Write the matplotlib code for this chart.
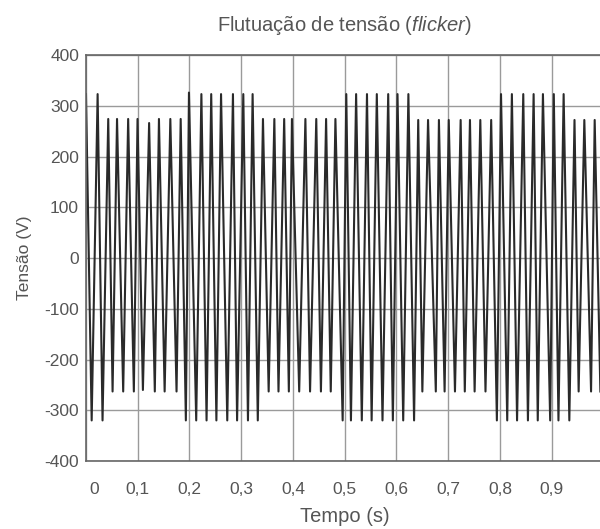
import numpy as np
import matplotlib
matplotlib.use("Agg")
import matplotlib.pyplot as plt
import matplotlib.transforms as mtransforms

plt.rcParams['font.family'] = ['Liberation Sans', 'DejaVu Sans']
plt.rcParams['mathtext.fontset'] = 'custom'
plt.rcParams['mathtext.rm'] = 'Liberation Sans'
plt.rcParams['mathtext.it'] = 'Liberation Sans:italic'
plt.rcParams['axes.unicode_minus'] = False

# positive peaks of the waveform (time in s, voltage in V)
peak_t = [0.000, 0.0225, 0.043, 0.060, 0.0815, 0.0996, 0.122, 0.141, 0.163, 0.183,
          0.199, 0.223, 0.242, 0.261, 0.284, 0.304, 0.322,
          0.342, 0.364, 0.383, 0.398, 0.424, 0.445, 0.464, 0.482,
          0.503, 0.522, 0.543, 0.562, 0.584, 0.602, 0.623,
          0.642, 0.661, 0.682, 0.701, 0.724, 0.742, 0.762, 0.783,
          0.802, 0.823, 0.845, 0.865, 0.883, 0.904, 0.923,
          0.944, 0.963, 0.983]
peak_v = [323, 323, 274, 274, 274, 274, 266, 274, 274, 274,
          326, 323, 323, 323, 323, 323, 323,
          274, 274, 274, 274, 274, 274, 274, 274,
          323, 323, 323, 323, 323, 323, 323,
          272, 272, 272, 272, 272, 272, 272, 272,
          323, 323, 323, 323, 323, 323, 323,
          272, 272, 272]

# negative troughs of the waveform
trough_t = [0.011, 0.032,
            0.0514, 0.0719, 0.0925, 0.110, 0.133, 0.152, 0.175,
            0.193, 0.213, 0.233, 0.252, 0.273, 0.292, 0.313, 0.332,
            0.353, 0.372, 0.392, 0.412, 0.433, 0.454, 0.473,
            0.496, 0.512, 0.533, 0.552, 0.573, 0.593, 0.613, 0.634,
            0.650, 0.676, 0.693, 0.713, 0.732, 0.751, 0.772,
            0.794, 0.814, 0.833, 0.854, 0.873, 0.897, 0.913, 0.934,
            0.952, 0.976, 0.994]
trough_v = [-320, -320,
            -263, -263, -263, -260, -263, -263, -263,
            -320, -320, -320, -320, -320, -320, -320, -320,
            -263, -263, -263, -263, -263, -263, -263,
            -320, -320, -320, -320, -320, -320, -320, -320,
            -263, -263, -263, -263, -263, -263, -263,
            -320, -320, -320, -320, -320, -320, -320, -320,
            -263, -263, -263]

x_ticks = [0, 0.1, 0.2, 0.3, 0.4, 0.5, 0.6, 0.7, 0.8, 0.9, 1.0]
x_labels = ['0', '0,1', '0,2', '0,3', '0,4', '0,5', '0,6', '0,7', '0,8', '0,9', '1']
y_ticks = [-400, -300, -200, -100, 0, 100, 200, 300, 400]

t = np.array(peak_t + trough_t)
v = np.array(peak_v + trough_v)
order = np.argsort(t)
t, v = t[order], v[order]

text_color = '#555555'

fig = plt.figure(figsize=(6, 5.29), dpi=100)
ax = fig.add_axes([0.1433, 0.1285, 0.8625, 0.7675])

ax.plot(t, v, color='#2a2a2a', lw=1.5)

ax.set_xlim(0, 1)
ax.set_ylim(-400, 400)
ax.set_xticks(x_ticks)
ax.set_xticklabels(x_labels)
ax.set_yticks(y_ticks)
ax.grid(True, color='#9a9a9a', lw=1.0)
ax.set_axisbelow(True)
for s in ax.spines.values():
    s.set_color('#666666')
    s.set_linewidth(1.2)
ax.tick_params(length=0, labelsize=12.5, labelcolor=text_color)
ax.tick_params(axis='x', pad=15)
ax.tick_params(axis='y', pad=5)

# first x label sits a bit to the right of the axis
lbl0 = ax.get_xticklabels()[0]
lbl0.set_transform(lbl0.get_transform() +
                   mtransforms.ScaledTranslation(6 / 72, 0, fig.dpi_scale_trans))

ax.set_title('Flutuação de tensão ($\\mathit{flicker}$)', fontsize=14.5,
             color=text_color, pad=17)
ax.set_xlabel('Tempo (s)', fontsize=14.5, color=text_color, labelpad=7)
ax.set_ylabel('Tensão (V)', fontsize=12.5, color=text_color, labelpad=9)

fig.savefig('out.png', dpi=100)
